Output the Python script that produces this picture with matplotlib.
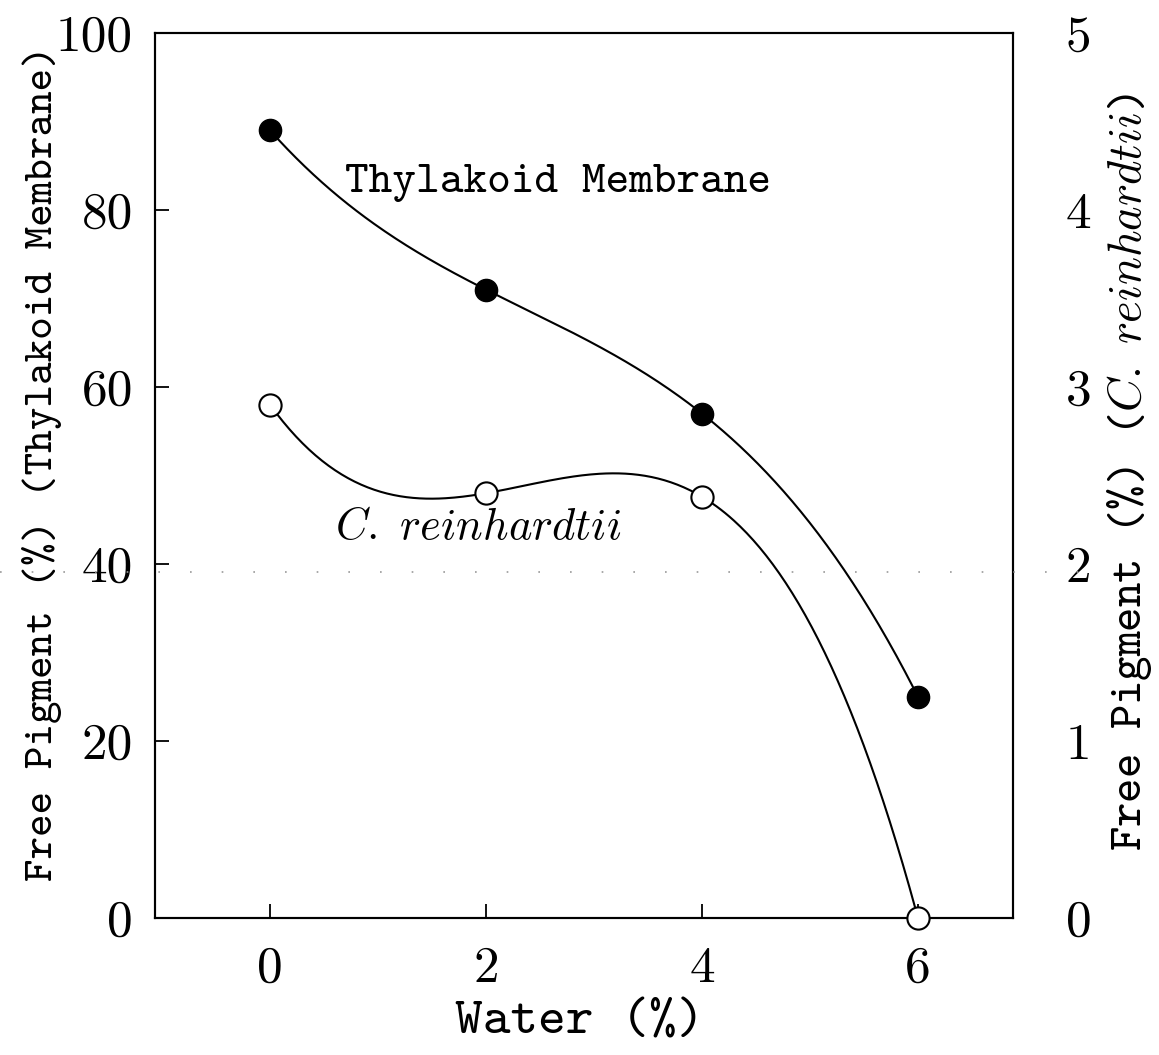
import numpy as np
import matplotlib
matplotlib.use("Agg")
import matplotlib.pyplot as plt
from matplotlib.lines import Line2D

# data
water = [0, 2, 4, 6]
thylakoid = [89, 71, 57, 25]          # left axis, %
reinhardtii = [2.9, 2.4, 2.38, 0.0]   # right axis, %

plt.rcParams["mathtext.fontset"] = "cm"
plt.rcParams["axes.unicode_minus"] = False
NUM = "cmr10"
TT = "cmtt10"


def smooth(x, y, xs):
    # cubic through the four points (like the original drawing program)
    return np.polyval(np.polyfit(x, y, len(x) - 1), xs)


fig = plt.figure(figsize=(11.59, 10.55), dpi=100)
ax = fig.add_axes([155 / 1159, 1 - 918 / 1055, 858 / 1159, 885 / 1055])
ax2 = ax.twinx()

xs = np.linspace(0, 6, 300)
ax.plot(xs, smooth(water, thylakoid, xs), color="black", lw=1.5, zorder=2)
ax.plot(water, thylakoid, "o", ms=16, color="black", zorder=3)

ax2.plot(xs, smooth(water, reinhardtii, xs), color="black", lw=1.5, zorder=2)
ax2.plot(water, reinhardtii, "o", ms=16, mfc="white", mec="black", mew=1.5,
         zorder=3, clip_on=False)

ax.set_xlim(-1.065, 6.88)
ax.set_ylim(0, 100)
ax2.set_ylim(0, 5)
ax.set_xticks(water)
ax.set_xticklabels([str(v) for v in water])
ax.set_yticks([0, 20, 40, 60, 80, 100])
ax.set_yticklabels(["0", "20", "40", "60", "80", "100"])
ax2.set_yticks([0, 1, 2, 3, 4, 5])
ax2.set_yticklabels(["0", "1", "2", "3", "4", "5"])

for a in (ax, ax2):
    for s in a.spines.values():
        s.set_linewidth(1.5)

ax.tick_params(axis="x", direction="in", length=10, width=1.3, pad=20, labelsize=37)
ax.tick_params(axis="y", direction="in", length=10, width=1.3, pad=16, labelsize=37)
ax2.tick_params(axis="y", direction="in", length=0, width=1.3, pad=38, labelsize=37)
for lab in ax.get_xticklabels() + ax.get_yticklabels() + ax2.get_yticklabels():
    lab.set_fontfamily(NUM)

ax.text(0.694, 83.0, "Thylakoid Membrane", fontsize=32.5, family=TT,
        ha="left", va="center")
ax.text(0.60, 44.2, r"$\mathit{C.\ reinhardtii}$", fontsize=32,
        ha="left", va="center")

fig.text(42 / 1159, 1 - 463 / 1055, "Free Pigment (%) (Thylakoid Membrane)",
         rotation=90, fontsize=31, family=TT, ha="center", va="center")
fig.text(1130 / 1159, 1 - 472 / 1055, r"Free Pigment (%) ($\mathit{C.\ reinhardtii}$)",
         rotation=90, fontsize=33.5, family=TT, ha="center", va="center")
fig.text(580 / 1159, 1 - 1024 / 1055, "Water (%)", fontsize=38, family=TT,
         ha="center", va="center")

# faint dotted scan line across the page
fig.add_artist(Line2D([0, 1100 / 1159], [1 - 572 / 1055] * 2, transform=fig.transFigure,
                      color="#999999", lw=1.2, linestyle=(0, (1, 18))))

fig.savefig("out.png", dpi=100)
